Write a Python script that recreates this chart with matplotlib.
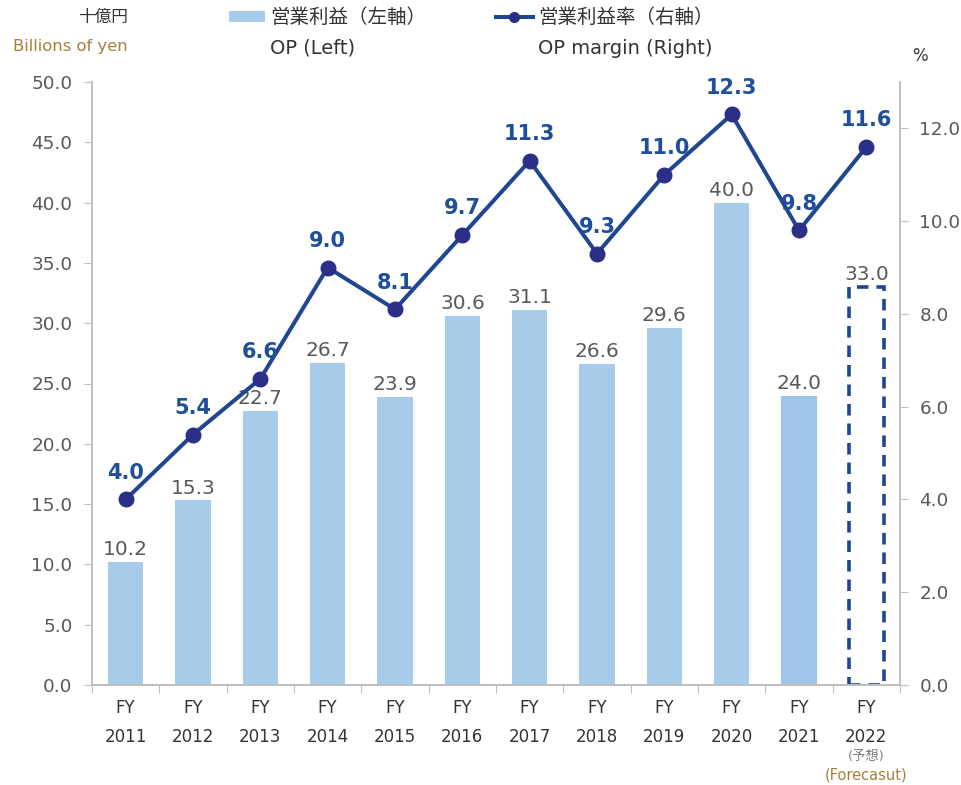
import matplotlib
matplotlib.use("Agg")
import matplotlib.pyplot as plt
from matplotlib.patches import Rectangle
from matplotlib.lines import Line2D

plt.rcParams['font.family'] = ['DejaVu Sans', 'Noto Sans CJK JP']

years = ['2011', '2012', '2013', '2014', '2015', '2016', '2017', '2018', '2019', '2020', '2021', '2022']
op = [10.2, 15.3, 22.7, 26.7, 23.9, 30.6, 31.1, 26.6, 29.6, 40.0, 24.0, 33.0]
margin = [4.0, 5.4, 6.6, 9.0, 8.1, 9.7, 11.3, 9.3, 11.0, 12.3, 9.8, 11.6]
left_ticks = [0, 5, 10, 15, 20, 25, 30, 35, 40, 45, 50]
right_ticks = [0, 2, 4, 6, 8, 10, 12]

BAR = '#A9CBEA'
BAR21 = '#9DC6E8'
LINE = '#1F4690'
MARK = '#2B2F88'
LBL = '#1F4E9A'
GRAY = '#595959'
AX = '#BFBFBF'
GOLD = '#A57F3C'

fig = plt.figure(figsize=(9.62, 7.85), dpi=100)
ax = fig.add_axes([92/962, 100/785, 808/962, 603/785])
ax2 = ax.twinx()
ax.set_zorder(1); ax2.set_zorder(2); ax.patch.set_visible(False)

x = list(range(len(years)))
n = len(years)
for i in range(n - 1):
    ax.bar(i, op[i], width=0.52, color=BAR21 if i == n - 2 else BAR, zorder=2)
ax.bar(n - 1, op[-1], width=0.52, facecolor='none', edgecolor='#1F4690',
       linewidth=2.6, linestyle=(0, (3.2, 2.2)), zorder=2)
for i in range(n):
    ax.annotate(f'{op[i]:.1f}', (i, op[i]), xytext=(0, 2), textcoords='offset points',
                ha='center', va='bottom', fontsize=14.5, color=GRAY)

ax.set_xlim(-0.5, n - 0.5)
ax.set_ylim(0, 50)
ax.set_yticks(left_ticks)
ax.set_yticklabels([f'{v:.1f}' for v in left_ticks], fontsize=13.2, color=GRAY)
ax.set_xticks([i + 0.5 for i in range(-1, n)])
ax.set_xticklabels([])
ax.tick_params(axis='x', length=6, color=AX, direction='out')
ax.tick_params(axis='y', length=6, color=AX, direction='out', pad=8)
for i in range(n):
    ax.text(i, -0.038, 'FY', transform=ax.get_xaxis_transform(), ha='center', va='center',
            fontsize=12, color='#333333')
    ax.text(i, -0.086, years[i], transform=ax.get_xaxis_transform(), ha='center', va='center',
            fontsize=12, color='#333333')
ax.text(n - 1, -0.119, '(予想)', transform=ax.get_xaxis_transform(), ha='center', va='center',
        fontsize=9.5, color='#7F7F7F')
ax.text(n - 1, -0.149, '(Forecasut)', transform=ax.get_xaxis_transform(), ha='center', va='center',
        fontsize=10.5, color=GOLD)

for a in (ax, ax2):
    a.spines['top'].set_visible(False)
    for s in ('left', 'right', 'bottom'):
        a.spines[s].set_color(AX)
        a.spines[s].set_linewidth(1.2)

ax2.plot(x, margin, color=LINE, linewidth=2.9, zorder=3)
ax2.plot(x, margin, linestyle='none', marker='o', markersize=10.5,
         markerfacecolor=MARK, markeredgecolor=MARK, zorder=4)
for i in range(n):
    ax2.annotate(f'{margin[i]:.1f}', (i, margin[i]), xytext=(0, 12), textcoords='offset points',
                 ha='center', va='bottom', fontsize=15, fontweight='bold', color=LBL)
ax2.set_ylim(0, 13.0)
ax2.set_yticks(right_ticks)
ax2.set_yticklabels([f'{v:.1f}' for v in right_ticks], fontsize=13.2, color=GRAY)
ax2.tick_params(axis='y', length=6, color=AX, direction='out', pad=8)

# header texts / legend
fig.text(128/962, 1 - 17/785, '十億円', ha='right', va='center', fontsize=12, color='#333333')
fig.text(128/962, 1 - 47/785, 'Billions of yen', ha='right', va='center', fontsize=11.8, color=GOLD)
fig.patches.append(Rectangle((229/962, 1 - 22/785), 36/962, 11/785, transform=fig.transFigure,
                             facecolor=BAR, edgecolor='none'))
fig.text(270/962, 1 - 17/785, '営業利益（左軸）', ha='left', va='center', fontsize=14, color='#333333')
fig.text(270/962, 1 - 48/785, 'OP (Left)', ha='left', va='center', fontsize=14, color='#333333')
fig.lines.append(Line2D([496/962, 533/962], [1 - 17/785, 1 - 17/785], transform=fig.transFigure,
                        color=LINE, linewidth=2.9))
fig.lines.append(Line2D([514.5/962], [1 - 17/785], transform=fig.transFigure,
                        color=MARK, marker='o', markersize=7, linestyle='none'))
fig.text(538/962, 1 - 17/785, '営業利益率（右軸）', ha='left', va='center', fontsize=14, color='#333333')
fig.text(538/962, 1 - 48/785, 'OP margin (Right)', ha='left', va='center', fontsize=14, color='#333333')
fig.text(920/962, 1 - 56/785, '%', ha='center', va='center', fontsize=12, color='#333333')

fig.savefig('out.png', dpi=100)
